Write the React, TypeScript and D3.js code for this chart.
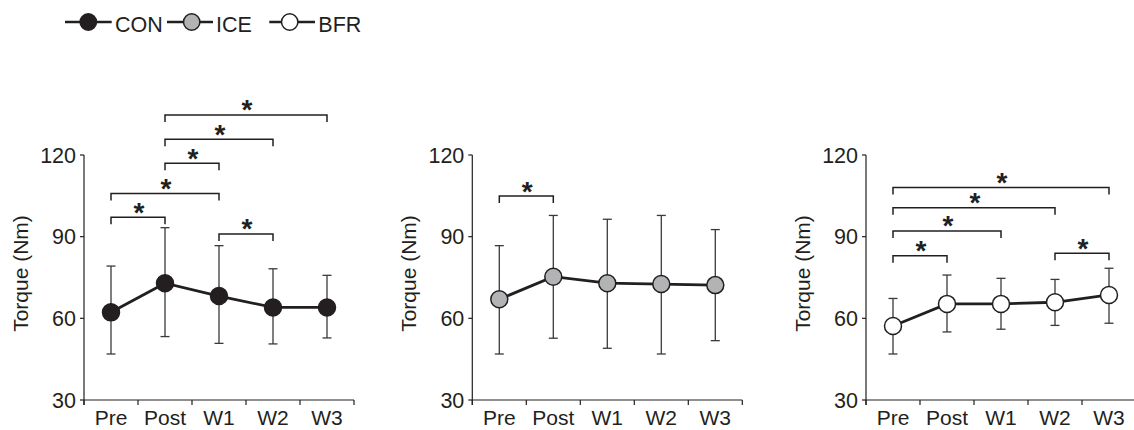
import React from "react";
import * as d3 from "d3";

const categories = ["Pre", "Post", "W1", "W2", "W3"];
const yTicks = [30, 60, 90, 120];

const conMean = [62.2, 72.9, 68.2, 64.0, 64.0];
const conUpper = [79.2, 93.3, 86.7, 78.2, 75.8];
const conLower = [46.9, 53.3, 50.8, 50.6, 52.8];

const iceMean = [67.0, 75.3, 72.9, 72.6, 72.2];
const iceUpper = [86.7, 97.8, 96.4, 97.8, 92.6];
const iceLower = [46.9, 52.7, 49.0, 46.9, 51.8];

const bfrMean = [57.2, 65.3, 65.3, 65.9, 68.6];
const bfrUpper = [67.3, 75.9, 74.7, 74.3, 78.4];
const bfrLower = [46.9, 55.0, 56.0, 57.4, 58.2];

// [fromIndex, toIndex, level (Nm)]
const conBrackets: [number, number, number][] = [
  [1, 4, 134.7],
  [1, 3, 125.8],
  [1, 2, 117.0],
  [0, 2, 105.9],
  [0, 1, 97.1],
  [2, 3, 91.0],
];
const iceBrackets: [number, number, number][] = [[0, 1, 104.9]];
const bfrBrackets: [number, number, number][] = [
  [0, 4, 108.1],
  [0, 3, 100.6],
  [0, 2, 92.1],
  [0, 1, 83.0],
  [3, 4, 83.9],
];

const seriesNames = ["CON", "ICE", "BFR"];
const seriesFills = ["#231f20", "#b2b3b5", "#ffffff"];

const INK = "#231f20";
const FONT = "'Liberation Sans', Arial, Helvetica, sans-serif";

type PanelProps = {
  axisX: number;
  mean: number[];
  upper: number[];
  lower: number[];
  brackets: [number, number, number][];
  fill: string;
};

function Panel({ axisX, mean, upper, lower, brackets, fill }: PanelProps) {
  const x = d3.scaleBand<string>().domain(categories).range([axisX, axisX + 270]).padding(0);
  const y = d3.scaleLinear().domain([30, 120]).range([400, 155]);
  const cx = (i: number) => (x(categories[i]) as number) + x.bandwidth() / 2;
  const line = d3
    .line<number>()
    .x((_, i) => cx(i))
    .y((d) => y(d));
  const boundaries = categories.map((c) => x(c) as number).concat([axisX + 270]);
  const capW = 4.5;
  return (
    <g>
      {/* axes */}
      <line x1={axisX} x2={axisX} y1={y(120)} y2={405} stroke={INK} strokeWidth={1.2} />
      <line x1={axisX} x2={axisX + 270} y1={y(30)} y2={y(30)} stroke={INK} strokeWidth={1.2} />
      {yTicks.map((t) => (
        <g key={t}>
          <line x1={axisX - 4} x2={axisX} y1={y(t)} y2={y(t)} stroke={INK} strokeWidth={1.2} />
          <text
            x={axisX - 8}
            y={y(t)}
            dy="0.36em"
            textAnchor="end"
            fontSize={21.5}
            fontFamily={FONT}
            fill={INK}
          >
            {t}
          </text>
        </g>
      ))}
      {boundaries.map((b, i) => (
        <line key={i} x1={b} x2={b} y1={y(30)} y2={405} stroke={INK} strokeWidth={1.2} />
      ))}
      {categories.map((c, i) => (
        <text
          key={c}
          x={cx(i)}
          y={425}
          textAnchor="middle"
          fontSize={21}
          fontFamily={FONT}
          fill={INK}
        >
          {c}
        </text>
      ))}
      <text
        transform={`translate(${axisX - 56.5},${(y(30) + y(120)) / 2 - 4}) rotate(-90)`}
        textAnchor="middle"
        fontSize={21}
        fontFamily={FONT}
        fill={INK}
      >
        Torque (Nm)
      </text>
      {/* brackets */}
      {brackets.map(([a, b, lv], k) => {
        const x1 = cx(a);
        const x2 = cx(b);
        const yy = y(lv);
        return (
          <g key={k}>
            <path
              d={`M${x1},${yy + 7}V${yy}H${x2}V${yy + 7}`}
              fill="none"
              stroke={INK}
              strokeWidth={1.5}
            />
            <text
              x={(x1 + x2) / 2 + 1}
              y={yy + 4.5}
              textAnchor="middle"
              fontSize={28}
              fontWeight={700}
              fontFamily={FONT}
              fill={INK}
            >
              *
            </text>
          </g>
        );
      })}
      {/* error bars */}
      {mean.map((m, i) => (
        <g key={i}>
          <line x1={cx(i)} x2={cx(i)} y1={y(upper[i])} y2={y(lower[i])} stroke="#3a3a3a" strokeWidth={1.3} />
          <line x1={cx(i) - capW} x2={cx(i) + capW} y1={y(upper[i])} y2={y(upper[i])} stroke="#3a3a3a" strokeWidth={1.3} />
          <line x1={cx(i) - capW} x2={cx(i) + capW} y1={y(lower[i])} y2={y(lower[i])} stroke="#3a3a3a" strokeWidth={1.3} />
        </g>
      ))}
      <path d={line(mean) || ""} fill="none" stroke={INK} strokeWidth={2.8} />
      {mean.map((m, i) => (
        <circle key={i} cx={cx(i)} cy={y(m)} r={8.5} fill={fill} stroke={INK} strokeWidth={1.5} />
      ))}
    </g>
  );
}

function Legend() {
  const items = [
    { x1: 65, x2: 111.7, cx: 88.3, tx: 115 },
    { x1: 167, x2: 213, cx: 191.7, tx: 216 },
    { x1: 269.3, x2: 315, cx: 289.7, tx: 318.3 },
  ];
  return (
    <g>
      {items.map((it, i) => (
        <g key={i}>
          <line x1={it.x1} x2={it.x2} y1={22} y2={22} stroke={INK} strokeWidth={2.5} />
          <circle cx={it.cx} cy={22} r={8.2} fill={seriesFills[i]} stroke={INK} strokeWidth={1.5} />
          <text x={it.tx} y={31.5} fontSize={21.5} fontFamily={FONT} fill={INK}>
            {seriesNames[i]}
          </text>
        </g>
      ))}
    </g>
  );
}

export default function App() {
  return (
    <svg
      width={1134}
      height={430}
      style={{ position: "absolute", left: 0, top: 0, background: "#fff" }}
    >
      <rect width={1134} height={430} fill="#fff" />
      <Legend />
      <Panel axisX={84} mean={conMean} upper={conUpper} lower={conLower} brackets={conBrackets} fill={seriesFills[0]} />
      <Panel axisX={472.3} mean={iceMean} upper={iceUpper} lower={iceLower} brackets={iceBrackets} fill={seriesFills[1]} />
      <Panel axisX={866} mean={bfrMean} upper={bfrUpper} lower={bfrLower} brackets={bfrBrackets} fill={seriesFills[2]} />
    </svg>
  );
}
